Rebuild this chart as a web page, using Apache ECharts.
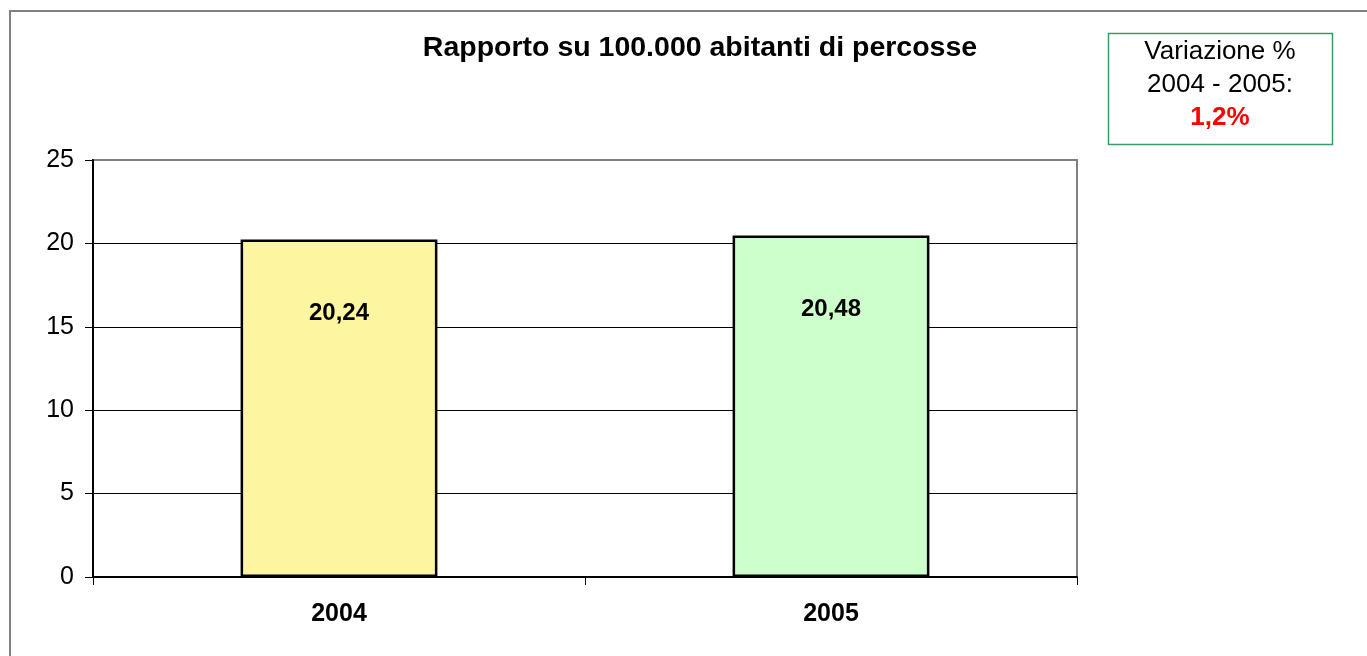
<!DOCTYPE html>
<html><head><meta charset="utf-8">
<script src="https://cdn.jsdelivr.net/npm/echarts@6/dist/echarts.min.js"></script>
<style>html,body{margin:0;padding:0;background:#fff}#c{width:1367px;height:656px}</style>
</head><body><div id="c"></div>
<script>
const categories = ['2004', '2005'];
const values = [20.24, 20.48];
const barColors = ['#FDF59F', '#CCFFCC'];
const yTicks = [0, 5, 10, 15, 20, 25];
const titleText = 'Rapporto su 100.000 abitanti di percosse';
const boxLines = ['Variazione %', '2004 - 2005:'];
const boxValue = '1,2%';

const chart = echarts.init(document.getElementById('c'));
chart.setOption({
  animation: false,
  backgroundColor: '#fff',
  title: {
    text: titleText, left: 695, top: 29, textAlign: 'center',
    textStyle: {fontFamily: 'Liberation Sans, Arial', fontWeight: 'bold', fontSize: 28.5, color: '#000'}
  },
  grid: {left: 93, right: 290, top: 160, bottom: 79, show: true, borderColor: '#808080', borderWidth: 2, backgroundColor: 'transparent'},
  xAxis: {
    type: 'category', data: categories,
    axisLine: {lineStyle: {color: '#000', width: 2}},
    axisTick: {show: true, length: 8, lineStyle: {color: '#000'}},
    axisLabel: {margin: 25, fontFamily: 'Liberation Sans, Arial', fontWeight: 'bold', fontSize: 25, color: '#000'}
  },
  yAxis: {
    type: 'value', min: yTicks[0], max: yTicks[yTicks.length - 1], interval: 5,
    axisLine: {show: true, lineStyle: {color: '#000', width: 2}},
    axisTick: {show: true, length: 8, lineStyle: {color: '#000'}},
    axisLabel: {margin: 19, fontFamily: 'Liberation Sans, Arial', fontSize: 25, color: '#000'},
    splitLine: {show: true, lineStyle: {color: ['#000', '#000', '#000', '#000', '#000', '#808080'], width: 1}}
  },
  series: [{
    type: 'bar', barWidth: '40%',
    data: values.map((v, i) => ({value: v, itemStyle: {color: barColors[i]}})),
    itemStyle: {borderColor: '#000', borderWidth: 2.5},
    label: {
      show: true, position: 'insideTop', distance: 62,
      formatter: p => p.value.toFixed(2).replace('.', ','),
      fontFamily: 'Liberation Sans, Arial', fontWeight: 'bold', fontSize: 24, color: '#000'
    }
  }],
  graphic: [
    {type: 'rect', shape: {x: 10, y: 11, width: 1400, height: 700}, style: {fill: 'none', stroke: '#808080', lineWidth: 2}, silent: true},
    {type: 'rect', shape: {x: 1108.5, y: 33.5, width: 224, height: 111}, style: {fill: '#fff', stroke: '#3A9A68', lineWidth: 1.5}},
    {type: 'text', x: 1220, y: 52, style: {text: boxLines[0], textAlign: 'center', textVerticalAlign: 'middle', font: '26px "Liberation Sans", Arial', fill: '#000'}},
    {type: 'text', x: 1220, y: 85, style: {text: boxLines[1], textAlign: 'center', textVerticalAlign: 'middle', font: '26px "Liberation Sans", Arial', fill: '#000'}},
    {type: 'text', x: 1220, y: 118, style: {text: boxValue, textAlign: 'center', textVerticalAlign: 'middle', font: 'bold 26px "Liberation Sans", Arial', fill: '#FF0000'}}
  ]
});
</script></body></html>
